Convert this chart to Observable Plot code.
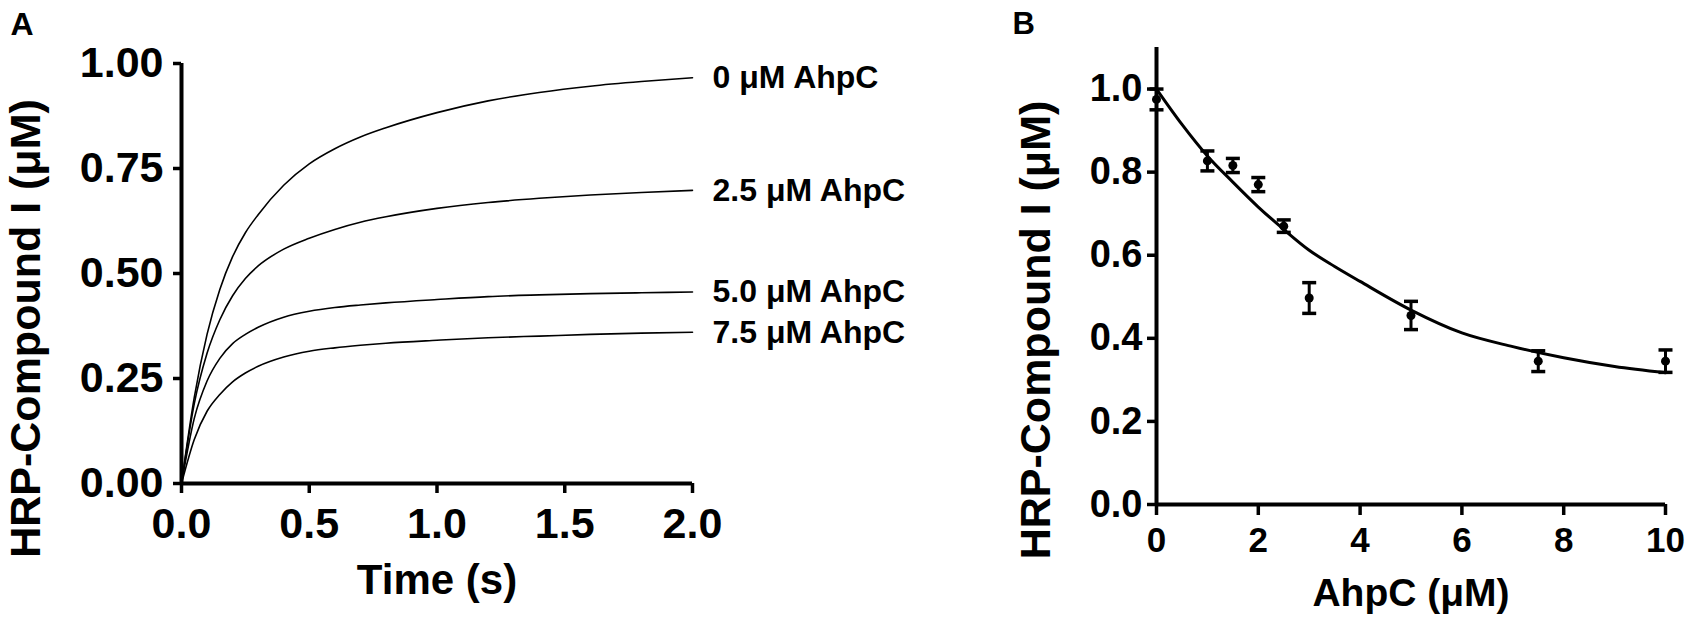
<!DOCTYPE html>
<html><head><meta charset="utf-8">
<script src="https://cdn.jsdelivr.net/npm/d3@7"></script>
<script src="https://cdn.jsdelivr.net/npm/@observablehq/plot@0.6"></script>
<style>
body{margin:0;background:#fff}
#wrap{display:flex;width:1688px;height:619px;overflow:hidden}
svg{display:block;overflow:visible}
</style>
</head><body><div id="wrap"></div>
<script>
// ---------- Panel A data ----------
const timesA = [0, 0.05, 0.1, 0.15, 0.2, 0.25, 0.3, 0.4, 0.5, 0.6, 0.7, 0.8, 1.0, 1.2, 1.4, 1.6, 1.8, 2.0];
const seriesA = ["0 μM AhpC", "2.5 μM AhpC", "5.0 μM AhpC", "7.5 μM AhpC"];
const valsA0  = [0, 0.205, 0.355, 0.462, 0.54, 0.597, 0.64, 0.71, 0.761, 0.797, 0.825, 0.847, 0.883, 0.911, 0.931, 0.946, 0.957, 0.966];
const valsA25 = [0, 0.19, 0.31, 0.39, 0.447, 0.488, 0.518, 0.558, 0.584, 0.605, 0.622, 0.635, 0.655, 0.669, 0.679, 0.687, 0.693, 0.698];
const valsA50 = [0, 0.155, 0.244, 0.298, 0.333, 0.355, 0.372, 0.396, 0.410, 0.419, 0.425, 0.430, 0.438, 0.445, 0.449, 0.452, 0.454, 0.456];
const valsA75 = [0, 0.105, 0.172, 0.212, 0.242, 0.263, 0.279, 0.301, 0.315, 0.323, 0.329, 0.334, 0.341, 0.347, 0.351, 0.355, 0.358, 0.360];
const ticksAx = [0, 0.5, 1.0, 1.5, 2.0];
const ticksAy = [0, 0.25, 0.5, 0.75, 1.0];
const titleAx = "Time (s)";
const titleAy = "HRP-Compound I (μM)";

// ---------- Panel B data ----------
const xB    = [0, 1, 1.5, 2, 2.5, 3, 5, 7.5, 10];
const yB    = [0.975, 0.827, 0.816, 0.770, 0.670, 0.497, 0.455, 0.345, 0.345];
const errB  = [0.025, 0.024, 0.017, 0.017, 0.015, 0.037, 0.034, 0.025, 0.027];
const fitX  = [0, 0.5, 1, 1.5, 2, 2.5, 3, 3.5, 4, 5, 6, 7, 8, 9, 10];
const fitY  = [1.0, 0.915, 0.839, 0.776, 0.716, 0.662, 0.612, 0.573, 0.537, 0.468, 0.413, 0.380, 0.353, 0.332, 0.317];
const ticksBx = [0, 2, 4, 6, 8, 10];
const ticksBy = [0, 0.2, 0.4, 0.6, 0.8, 1.0];
const titleBx = "AhpC (μM)";
const titleBy = "HRP-Compound I (μM)";

const FONT = "'Liberation Sans', Arial, sans-serif";
const valsA = [valsA0, valsA25, valsA50, valsA75];
const rowsA = seriesA.flatMap((s, i) => timesA.map((t, j) => ({s, t, v: valsA[i][j]})));
const endsA = seriesA.map((s, i) => ({s, t: timesA[timesA.length - 1], v: valsA[i][timesA.length - 1]}));

const chartA = Plot.plot({
  width: 940, height: 619,
  marginLeft: 181, marginRight: 248, marginTop: 63, marginBottom: 136,
  style: {fontFamily: FONT, fontWeight: "bold", color: "#000", background: "transparent"},
  x: {domain: [0, 2]},
  y: {domain: [0, 1]},
  marks: [
    Plot.line(rowsA, {x: "t", y: "v", z: "s", stroke: "#000", strokeWidth: 1.6, curve: "monotone-x"}),
    Plot.axisX({ticks: ticksAx, tickFormat: d3.format(".1f"), tickSize: 10, tickPadding: 14, fontSize: 43, fontWeight: "bold", strokeWidth: 3.5, label: null}),
    Plot.axisY({ticks: ticksAy, tickFormat: d3.format(".2f"), tickSize: 8, tickPadding: 10, fontSize: 43, fontWeight: "bold", strokeWidth: 3.5, label: null}),
    Plot.ruleX([0], {stroke: "#000", strokeWidth: 4}),
    Plot.ruleY([0], {stroke: "#000", strokeWidth: 4}),
    Plot.text(endsA, {x: "t", y: "v", text: "s", dx: 20, textAnchor: "start", fontSize: 32, fontWeight: "bold", fill: "#000"}),
    Plot.text([titleAx], {text: d => d, frameAnchor: "bottom", dy: 110, lineAnchor: "bottom", fontSize: 42, fontWeight: "bold", fill: "#000"}),
    Plot.text([titleAy], {text: d => d, frameAnchor: "left", dx: -142, dy: 55, rotate: -90, textAnchor: "middle", lineAnchor: "bottom", fontSize: 43, fontWeight: "bold", fill: "#000"}),
    Plot.text(["A"], {text: d => d, frameAnchor: "top-left", dx: -171, dy: -29, textAnchor: "start", lineAnchor: "bottom", fontSize: 32, fontWeight: "bold", fill: "#000"})
  ]
});

const ptsB = xB.map((x, i) => ({x, y: yB[i], e: errB[i]}));
const fitB = fitX.map((x, i) => ({x, y: fitY[i]}));
const capSymbol = {draw(ctx, size) { const r = Math.sqrt(size / Math.PI); ctx.moveTo(-r, 0); ctx.lineTo(r, 0); }};

const chartB = Plot.plot({
  width: 748, height: 619,
  marginLeft: 216, marginRight: 23, marginTop: 47, marginBottom: 115,
  style: {fontFamily: FONT, fontWeight: "bold", color: "#000", background: "transparent"},
  x: {domain: [0, 10]},
  y: {domain: [0, 1.1]},
  marks: [
    Plot.line(fitB, {x: "x", y: "y", stroke: "#000", strokeWidth: 3, curve: "monotone-x"}),
    Plot.ruleX(ptsB, {x: "x", y1: d => d.y - d.e, y2: d => d.y + d.e, stroke: "#000", strokeWidth: 3}),
    Plot.dot(ptsB, {x: "x", y: d => d.y + d.e, symbol: capSymbol, r: 7, stroke: "#000", strokeWidth: 3.5, fill: "none"}),
    Plot.dot(ptsB, {x: "x", y: d => d.y - d.e, symbol: capSymbol, r: 7, stroke: "#000", strokeWidth: 3.5, fill: "none"}),
    Plot.dot(ptsB, {x: "x", y: "y", r: 4.5, fill: "#000", stroke: "none"}),
    Plot.axisX({ticks: ticksBx, tickFormat: d3.format("d"), tickSize: 11, tickPadding: 12, fontSize: 35, fontWeight: "bold", strokeWidth: 3.5, label: null}),
    Plot.axisY({ticks: ticksBy, tickFormat: d3.format(".1f"), tickSize: 9, tickPadding: 5, fontSize: 38, fontWeight: "bold", strokeWidth: 3.5, label: null}),
    Plot.ruleX([0], {stroke: "#000", strokeWidth: 4}),
    Plot.ruleY([0], {stroke: "#000", strokeWidth: 4}),
    Plot.text([titleBx], {text: d => d, frameAnchor: "bottom", dy: 101, lineAnchor: "bottom", fontSize: 39, fontWeight: "bold", fill: "#000"}),
    Plot.text([titleBy], {text: d => d, frameAnchor: "left", dx: -107, dy: 54, rotate: -90, textAnchor: "middle", lineAnchor: "bottom", fontSize: 43, fontWeight: "bold", fill: "#000"}),
    Plot.text(["B"], {text: d => d, frameAnchor: "top-left", dx: -144, dy: -14, textAnchor: "start", lineAnchor: "bottom", fontSize: 31, fontWeight: "bold", fill: "#000"})
  ]
});

document.getElementById("wrap").append(chartA, chartB);
</script>
</body></html>
